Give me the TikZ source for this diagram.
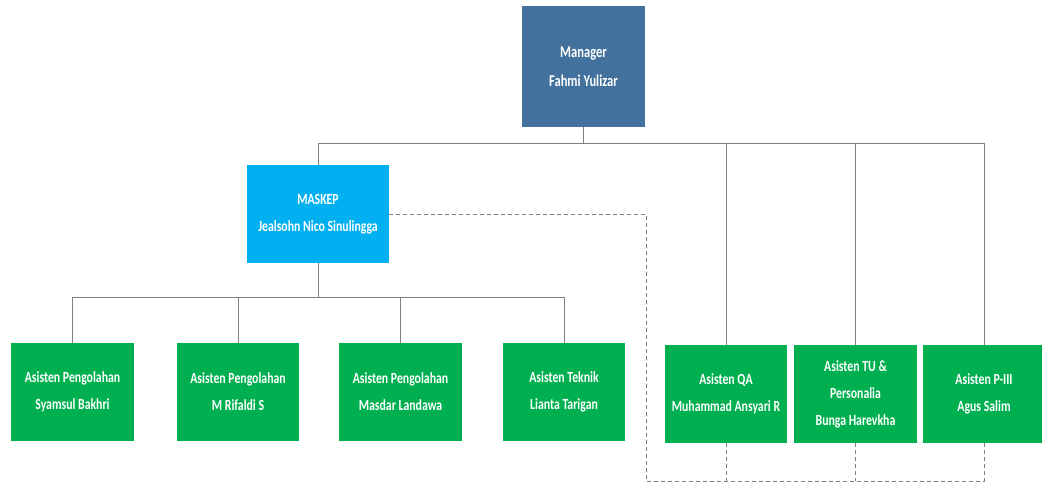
\documentclass[tikz,border=0pt]{standalone}
\usepackage{fontspec}
\setmainfont{Carlito}[FakeStretch=0.76]
\definecolor{mgrblue}{RGB}{65,113,156}
\definecolor{maskcyan}{RGB}{0,176,240}
\definecolor{boxgreen}{RGB}{0,176,80}
\definecolor{linegray}{RGB}{128,128,128}
\tikzset{
  box/.style={rectangle, draw=none, text=white, align=center, inner sep=0pt,
    minimum height=98pt, font=\fontsize{15.5}{27}\selectfont\bfseries},
  mgrbox/.style={box, fill=mgrblue, minimum width=123pt, minimum height=121pt, font=\fontsize{16.5}{29}\selectfont\bfseries},
  masbox/.style={box, fill=maskcyan, minimum width=142pt},
  gbox/.style={box, fill=boxgreen, minimum width=122.5pt},
  conn/.style={draw=linegray, line width=1pt},
  dconn/.style={draw=linegray, line width=1pt, dash pattern=on 4pt off 3pt}
}
\begin{document}
\begin{tikzpicture}[x=1pt,y=-1pt]
\useasboundingbox (0,0) rectangle (1042,483);
\node[mgrbox] (mgr) at (583.5,66.5) {Manager\\Fahmi Yulizar};
\node[masbox] (mas) at (318,214) {MASKEP\\Jealsohn Nico Sinulingga};
\node[gbox] (a1) at (72.5,392) {Asisten Pengolahan\\Syamsul Bakhri};
\node[gbox] (a2) at (238,392) {Asisten Pengolahan\\M Rifaldi S};
\node[gbox] (a3) at (400.5,392) {Asisten Pengolahan\\Masdar Landawa};
\node[gbox] (a4) at (564,392) {Asisten Teknik\\Lianta Tarigan};
\node[gbox] (a5) at (726,394) {Asisten QA\\Muhammad Ansyari R};
\node[gbox] (a6) at (855.5,394) {Asisten TU \&\\Personalia\\Bunga Harevkha};
\node[gbox] (a7) at (984,394) {Asisten P-III\\Agus Salim};
\coordinate (b1) at (583.5,143);
\coordinate (b2) at (318,297);
\coordinate (d1) at (646,214);
\coordinate (d2) at (646,481);
% upper bus
\draw[conn] (mgr.south) -- (b1);
\draw[conn] (mas.north) |- (a7 |- b1) -- (a7.north);
\draw[conn] (a5.north) -- (a5 |- b1);
\draw[conn] (a6.north) -- (a6 |- b1);
% lower bus
\draw[conn] (mas.south) -- (b2);
\draw[conn] (a1.north) |- (a4 |- b2) -- (a4.north);
\draw[conn] (a2.north) -- (a2 |- b2);
\draw[conn] (a3.north) -- (a3 |- b2);
% dashed relation
\draw[dconn] (mas.east) -- (d1) -- (d2) -| (a7.south);
\draw[dconn] (a5.south) -- (a5 |- d2);
\draw[dconn] (a6.south) -- (a6 |- d2);
\end{tikzpicture}
\end{document}
